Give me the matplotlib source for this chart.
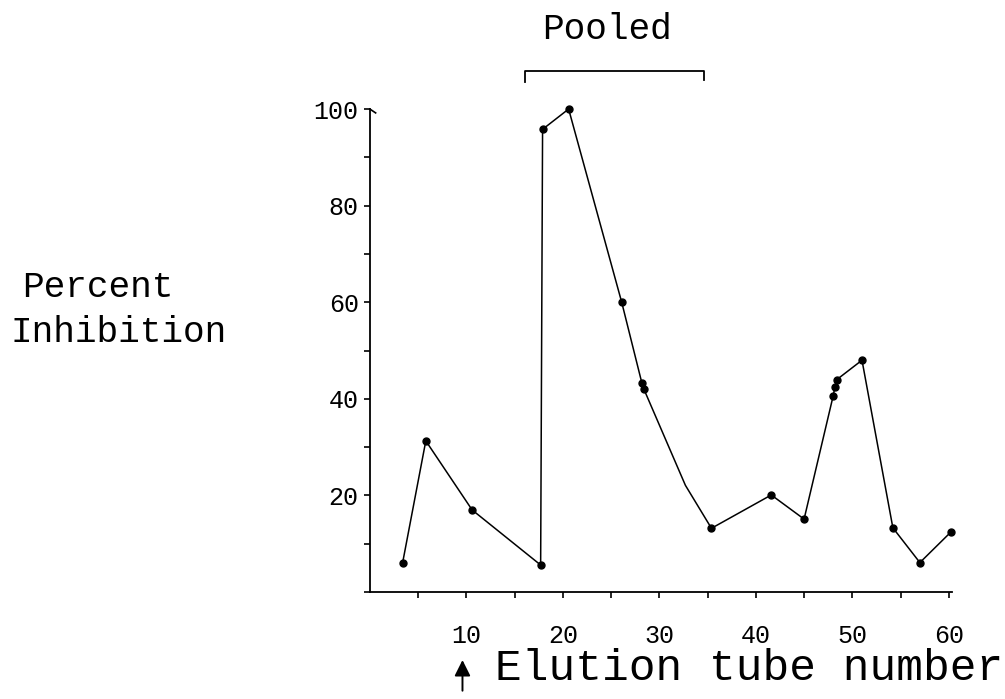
import numpy as np
import matplotlib.pyplot as plt

# elution profile
tube = [3.4, 5.8, 10.6, 17.7, 17.9, 20.6, 26.1, 28.2, 28.4, 32.7, 35.4,
        41.6, 45.0, 48.0, 48.2, 48.4, 51.0, 54.2, 57.0, 60.2]
inhib = [6.1, 31.3, 17.0, 5.6, 95.8, 100.0, 60.0, 43.2, 42.0, 22.1, 13.2,
         20.1, 15.1, 40.5, 42.5, 44.0, 48.0, 13.3, 6.1, 12.4]
has_dot = [1, 1, 1, 1, 1, 1, 1, 1, 1, 0, 1, 1, 1, 1, 1, 1, 1, 1, 1, 1]

pooled = (16.1, 34.6)
arrow_tube = 9.6

xticks = [5, 10, 15, 20, 25, 30, 35, 40, 45, 50, 55, 60]
xlabels = ['', '10', '', '20', '', '30', '', '40', '', '50', '', '60']
yticks = [0, 10, 20, 30, 40, 50, 60, 70, 80, 90, 100]
ylabels = ['', '', '20', '', '40', '', '60', '', '80', '', '100']

font = 'Liberation Mono'

fig = plt.figure(figsize=(10.05, 6.99), dpi=100)
ax = fig.add_axes([0.368, 0.153, 0.579, 0.691])

ax.plot(tube, inhib, color='black', lw=1.1, clip_on=False)
tx = np.array(tube)[np.array(has_dot) == 1]
ty = np.array(inhib)[np.array(has_dot) == 1]
ax.plot(tx, ty, 'o', color='black', ms=5, clip_on=False)

ax.set_xlim(0, 60.3)
ax.set_ylim(0, 100)
for s in ['top', 'right']:
    ax.spines[s].set_visible(False)
for s in ['left', 'bottom']:
    ax.spines[s].set_linewidth(1.3)

ax.set_xticks(xticks)
ax.set_xticklabels(xlabels, fontfamily=font, fontsize=18)
ax.set_yticks(yticks)
ax.set_yticklabels(ylabels, fontfamily=font, fontsize=18)
ax.tick_params(axis='x', direction='out', length=4, width=1.2, pad=19)
ax.tick_params(axis='y', direction='out', length=4, width=1.2, pad=4)

# little hook at the top of the y axis
ax.plot([0, 0.6], [100, 99.2], color='black', lw=1.2, clip_on=False)

# pooled bracket
py = 107.9
ax.plot([pooled[0], pooled[0], pooled[1], pooled[1]],
        [py - 2.2, py, py, py - 1.8], color='black', lw=1.3, clip_on=False)
ax.text(sum(pooled) / 2 - 0.8, 116.4, 'Pooled', ha='center', va='center',
        fontfamily=font, fontsize=26)

# axis labels as typed on the original
fig.text(0.4925, 0.044, 'Elution tube number', ha='left', va='center',
         fontfamily=font, fontsize=32)
ax.annotate('', xy=(arrow_tube, -13.5), xytext=(arrow_tube, -21),
            xycoords='data', annotation_clip=False,
            arrowprops=dict(arrowstyle='-|>', color='black', lw=1.4,
                            mutation_scale=24))
fig.text(0.022, 0.588, 'Percent', ha='left', va='center',
         fontfamily=font, fontsize=26)
fig.text(0.010, 0.525, 'Inhibition', ha='left', va='center',
         fontfamily=font, fontsize=26)

fig.savefig('out.png', dpi=100)
